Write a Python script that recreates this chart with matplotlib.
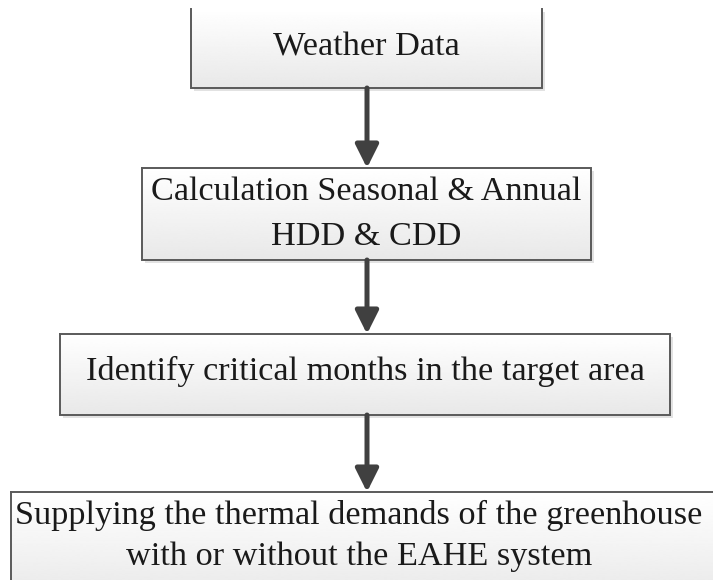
import matplotlib
matplotlib.use("Agg")
import matplotlib.pyplot as plt
import numpy as np
from matplotlib.patches import Rectangle, FancyArrowPatch

steps = [
    "Weather Data",
    "Calculation Seasonal & Annual\nHDD & CDD",
    "Identify critical months in the target area",
    "Supplying the thermal demands of the greenhouse\nwith or without the EAHE system",
]

# layout (pixels): x0, y0, x1, y1, text centre y, linespacing, top edge drawn
boxes = [
    (191, 9, 542, 88, 47, 1.0, False),
    (142, 168, 591, 260, 214, 1.6, True),
    (60, 334, 670, 415, 371, 1.0, True),
    (11, 492, 725, 600, 536, 1.45, True),
]

W, H = 713, 580
fig = plt.figure(figsize=(W / 100, H / 100), dpi=100)
ax = fig.add_axes([0, 0, 1, 1])
ax.set_xlim(0, W)
ax.set_ylim(H, 0)
ax.axis("off")

edge_col = "#5a5a5a"
grad = np.linspace(1.0, 0.91, 256).reshape(-1, 1)
for (x0, y0, x1, y1, ty, ls, top), label in zip(boxes, steps):
    ax.add_patch(Rectangle((x0 + 3, y0 + 3), x1 - x0, y1 - y0, facecolor="#e2e2e2",
                           edgecolor="none", zorder=1))
    im = ax.imshow(grad, cmap="gray", vmin=0, vmax=1, extent=(x0, x1, y1, y0),
                   aspect="auto", zorder=2, interpolation="bilinear")
    rect = Rectangle((x0, y0), x1 - x0, y1 - y0, facecolor="none",
                     edgecolor="none", zorder=3)
    ax.add_patch(rect)
    im.set_clip_path(rect)
    if top:
        xs, ys = [x0, x1, x1, x0, x0], [y0, y0, y1, y1, y0]
    else:
        xs, ys = [x0, x0, x1, x1], [y0, y1, y1, y0]
    ax.plot(xs, ys, color=edge_col, linewidth=1.4, zorder=3,
            solid_joinstyle="miter")
    cx = (x0 + min(x1, W - 6)) / 2
    ax.text(cx, ty, label, ha="center", va="center", fontsize=24.7,
            family="Liberation Serif", color="#1a1a1a", linespacing=ls, zorder=4)

ax.set_xlim(0, W)
ax.set_ylim(H, 0)

arrow_x = 367
for i in range(3):
    y_start = boxes[i][3]
    y_end = boxes[i + 1][1]
    ax.add_patch(FancyArrowPatch((arrow_x, y_start), (arrow_x, y_end),
                                 arrowstyle="-|>,head_length=14,head_width=7",
                                 mutation_scale=1, color="#404040", linewidth=3.6,
                                 shrinkA=0, shrinkB=0, zorder=5))

fig.savefig("out.png", dpi=100)
